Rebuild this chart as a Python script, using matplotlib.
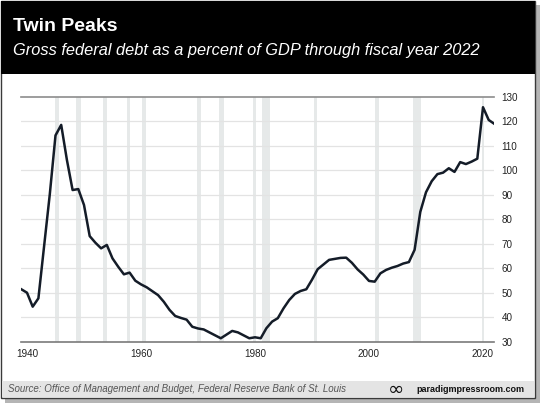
import matplotlib
matplotlib.use("Agg")
import matplotlib.pyplot as plt
from matplotlib.patches import Rectangle

years = list(range(1939, 2023))
debt_pct_gdp = [
    51.4, 50.0, 44.3, 47.7, 69.0, 90.2, 114.2, 118.5, 104.2, 91.9,   # 1939-1948
    92.3, 85.8, 73.1, 70.4, 68.1, 69.5, 64.0, 60.6, 57.5, 58.2,      # 1949-1958
    54.9, 53.4, 52.2, 50.6, 49.0, 46.3, 43.0, 40.5, 39.7, 39.0,      # 1959-1968
    36.1, 35.4, 35.0, 33.8, 32.6, 31.4, 32.9, 34.4, 33.8, 32.6,      # 1969-1978
    31.4, 31.8, 31.4, 35.5, 38.2, 39.6, 43.6, 47.0, 49.5, 50.7,      # 1979-1988
    51.4, 55.3, 59.6, 61.5, 63.4, 63.8, 64.2, 64.3, 62.2, 59.5,      # 1989-1998
    57.4, 54.8, 54.5, 57.9, 59.3, 60.2, 60.9, 61.9, 62.5, 67.5,      # 1999-2008
    83.0, 91.0, 95.5, 98.4, 99.0, 100.8, 99.3, 103.3, 102.5, 103.5,  # 2009-2018
    104.7, 125.7, 120.5, 118.9,                                      # 2019-2022
]
recession_starts = [1944.9, 1948.6, 1953.3, 1957.5, 1960.2, 1969.8, 1973.6,
                    1979.7, 1981.2, 1990.4, 2001.1, 2007.8, 2019.9]
recession_ends = [1945.6, 1949.5, 1954.0, 1958.1, 1960.9, 1970.5, 1974.6,
                  1980.2, 1982.6, 1990.9, 2001.7, 2009.1, 2020.2]
x_ticks = [1940, 1960, 1980, 2000, 2020]
y_ticks = [30, 40, 50, 60, 70, 80, 90, 100, 110, 120, 130]

title = "Twin Peaks"
subtitle = "Gross federal debt as a percent of GDP through fiscal year 2022"
source = "Source: Office of Management and Budget, Federal Reserve Bank of St. Louis"
brand = "paradigmpressroom.com"

W, H = 540, 403
fig = plt.figure(figsize=(W / 100, H / 100), dpi=100)
fig.patch.set_facecolor("white")

def rect(x0, y0, x1, y1, **kw):
    r = Rectangle((x0 / W, 1 - y1 / H), (x1 - x0) / W, (y1 - y0) / H,
                  transform=fig.transFigure, **kw)
    fig.add_artist(r)
    return r

# shadow + card
rect(5, 5, 540, 403, facecolor="#b5b5b5", edgecolor="none", zorder=0)
rect(1, 1, 535, 398, facecolor="white", edgecolor="#3a3a3a", lw=1.0, zorder=1)
rect(1, 1, 535, 74, facecolor="black", edgecolor="none", zorder=2)
rect(2, 381, 534, 397, facecolor="#e4e4e4", edgecolor="none", zorder=2)

fs = "Liberation Sans"
fig.text(13 / W, 1 - 31 / H, title, color="white", fontsize=14,
         fontweight="bold", family=fs, va="baseline", ha="left", zorder=3)
fig.text(13 / W, 1 - 55 / H, subtitle, color="white", fontsize=11.75,
         style="italic", family=fs, va="baseline", ha="left", zorder=3)
fig.text(8 / W, 1 - 389.5 / H, source, color="#555555", fontsize=7.0,
         style="italic", family=fs, va="center", ha="left", zorder=3)
fig.text(524 / W, 1 - 389.5 / H, brand, color="#111111", fontsize=6.5,
         fontweight="bold", family=fs, va="center", ha="right", zorder=3)
fig.text(396 / W, 1 - 389.5 / H, "∞", color="#111111", fontsize=14,
         family="DejaVu Sans", va="center", ha="center", zorder=3)

left, right, top, bottom = 21.3, 494.4, 96.7, 341.7
ax = fig.add_axes([left / W, 1 - bottom / H, (right - left) / W, (bottom - top) / H])
ax.set_zorder(4)
ax.patch.set_alpha(0)
ax.set_xlim(1939, 2022)
ax.set_ylim(30, 130)

for s, e in zip(recession_starts, recession_ends):
    ax.axvspan(s, e, color="#e6e9e9", lw=0, zorder=0)

for v in y_ticks[1:-1]:
    ax.axhline(v, color="#e3e3e3", lw=0.9, zorder=1)
ax.axhline(130, color="#8c8c8c", lw=1.2, zorder=2, clip_on=False)
ax.axhline(30, color="#7a7a7a", lw=1.2, zorder=2, clip_on=False)

ax.plot(years, debt_pct_gdp, color="#141c28", lw=1.8, zorder=3,
        solid_joinstyle="round")

for sp in ax.spines.values():
    sp.set_visible(False)
ax.set_xticks(x_ticks)
ax.set_yticks(y_ticks)
ax.tick_params(axis="y", left=False, right=False, labelleft=False,
               labelright=True, length=0, pad=5, labelsize=7.1, labelcolor="#222222")
ax.tick_params(axis="x", bottom=False, length=0, pad=5, labelsize=7.1,
               labelcolor="#222222")
for lab in ax.get_xticklabels() + ax.get_yticklabels():
    lab.set_family(fs)

fig.savefig("out.png", dpi=100)
